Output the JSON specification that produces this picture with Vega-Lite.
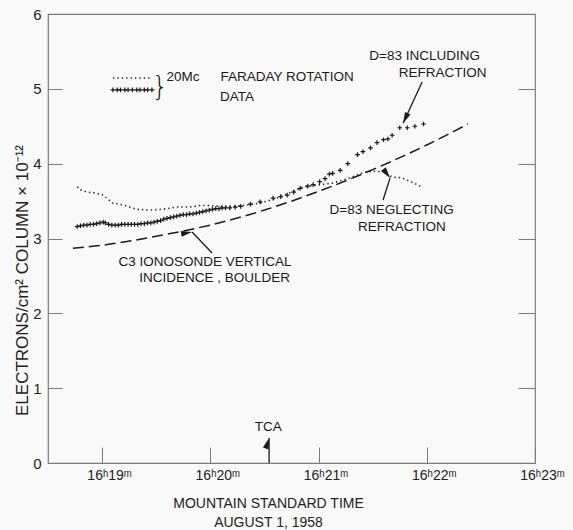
{
  "$schema": "https://vega.github.io/schema/vega-lite/v6.json",
  "width": 487,
  "height": 449,
  "autosize": {"type": "none"},
  "padding": {"left": 48, "top": 14, "right": 38, "bottom": 67},
  "background": "#f9f9f9",
  "config": {
    "view": {"stroke": "#7a7a7a", "strokeWidth": 1.2},
    "font": "Liberation Sans",
    "axis": {"labelFont": "Liberation Sans", "titleFont": "Liberation Sans", "labelColor": "#222", "titleColor": "#222", "tickColor": "#7a7a7a", "titleFontWeight": "normal", "grid": false, "domain": false}
  },
  "datasets": {
    "iono": [
      {"t": 18.73, "v": 2.87}, {"t": 19.0, "v": 2.91}, {"t": 19.5, "v": 3.03}, {"t": 20.0, "v": 3.18},
      {"t": 20.5, "v": 3.38}, {"t": 21.0, "v": 3.63}, {"t": 21.5, "v": 3.92}, {"t": 22.0, "v": 4.25}, {"t": 22.38, "v": 4.53}
    ],
    "neglect": [
      {"g": "a", "t": 18.77, "v": 3.69}, {"g": "a", "t": 18.8, "v": 3.65}, {"g": "a", "t": 18.86, "v": 3.62}, {"g": "a", "t": 18.93, "v": 3.61},
      {"g": "a", "t": 19.01, "v": 3.58}, {"g": "a", "t": 19.05, "v": 3.53}, {"g": "a", "t": 19.1, "v": 3.47}, {"g": "a", "t": 19.19, "v": 3.45},
      {"g": "a", "t": 19.32, "v": 3.39}, {"g": "a", "t": 19.44, "v": 3.38}, {"g": "a", "t": 19.56, "v": 3.39}, {"g": "a", "t": 19.69, "v": 3.42},
      {"g": "a", "t": 19.81, "v": 3.42}, {"g": "a", "t": 19.9, "v": 3.44}, {"g": "a", "t": 20.0, "v": 3.44}, {"g": "a", "t": 20.1, "v": 3.43},
      {"g": "a", "t": 20.2, "v": 3.43}, {"g": "a", "t": 20.3, "v": 3.44}, {"g": "a", "t": 20.45, "v": 3.47}, {"g": "a", "t": 20.6, "v": 3.53},
      {"g": "a", "t": 20.75, "v": 3.62}, {"g": "a", "t": 20.86, "v": 3.69}, {"g": "a", "t": 21.13, "v": 3.74}, {"g": "a", "t": 21.29, "v": 3.81},
      {"g": "a", "t": 21.41, "v": 3.88}, {"g": "a", "t": 21.5, "v": 3.9}, {"g": "a", "t": 21.6, "v": 3.89}, {"g": "a", "t": 21.64, "v": 3.85},
      {"g": "a", "t": 21.69, "v": 3.82}, {"g": "a", "t": 21.77, "v": 3.81}, {"g": "a", "t": 21.85, "v": 3.76}, {"g": "a", "t": 21.91, "v": 3.72},
      {"g": "a", "t": 21.96, "v": 3.68},
      {"g": "legend", "t": 19.1, "v": 5.145}, {"g": "legend", "t": 19.46, "v": 5.145}
    ],
    "incl": [
      {"t": 18.77, "v": 3.16}, {"t": 18.8, "v": 3.17}, {"t": 18.83, "v": 3.18}, {"t": 18.86, "v": 3.18}, {"t": 18.89, "v": 3.19},
      {"t": 18.92, "v": 3.19}, {"t": 18.95, "v": 3.2}, {"t": 18.98, "v": 3.21}, {"t": 19.01, "v": 3.22}, {"t": 19.03, "v": 3.21},
      {"t": 19.06, "v": 3.19}, {"t": 19.09, "v": 3.18}, {"t": 19.12, "v": 3.18}, {"t": 19.15, "v": 3.18}, {"t": 19.18, "v": 3.19},
      {"t": 19.21, "v": 3.19}, {"t": 19.24, "v": 3.19}, {"t": 19.27, "v": 3.19}, {"t": 19.3, "v": 3.19}, {"t": 19.33, "v": 3.19},
      {"t": 19.36, "v": 3.2}, {"t": 19.39, "v": 3.2}, {"t": 19.42, "v": 3.21}, {"t": 19.45, "v": 3.21}, {"t": 19.48, "v": 3.22},
      {"t": 19.51, "v": 3.23}, {"t": 19.54, "v": 3.24}, {"t": 19.57, "v": 3.26}, {"t": 19.6, "v": 3.27}, {"t": 19.63, "v": 3.28},
      {"t": 19.66, "v": 3.29}, {"t": 19.69, "v": 3.3}, {"t": 19.72, "v": 3.31}, {"t": 19.75, "v": 3.32}, {"t": 19.78, "v": 3.32},
      {"t": 19.81, "v": 3.33}, {"t": 19.84, "v": 3.33}, {"t": 19.87, "v": 3.34}, {"t": 19.9, "v": 3.35}, {"t": 19.93, "v": 3.36},
      {"t": 19.96, "v": 3.37}, {"t": 19.99, "v": 3.38}, {"t": 20.02, "v": 3.39}, {"t": 20.05, "v": 3.4}, {"t": 20.08, "v": 3.4},
      {"t": 20.11, "v": 3.41}, {"t": 20.14, "v": 3.41}, {"t": 20.18, "v": 3.41}, {"t": 20.23, "v": 3.42}, {"t": 20.28, "v": 3.43},
      {"t": 20.37, "v": 3.46}, {"t": 20.46, "v": 3.49}, {"t": 20.58, "v": 3.54}, {"t": 20.65, "v": 3.56}, {"t": 20.71, "v": 3.58},
      {"t": 20.77, "v": 3.62}, {"t": 20.83, "v": 3.67}, {"t": 20.9, "v": 3.7}, {"t": 20.95, "v": 3.72}, {"t": 21.01, "v": 3.76},
      {"t": 21.06, "v": 3.8}, {"t": 21.1, "v": 3.86}, {"t": 21.13, "v": 3.87}, {"t": 21.2, "v": 3.91}, {"t": 21.27, "v": 4.0},
      {"t": 21.36, "v": 4.12}, {"t": 21.41, "v": 4.16}, {"t": 21.48, "v": 4.21}, {"t": 21.54, "v": 4.28}, {"t": 21.6, "v": 4.32},
      {"t": 21.64, "v": 4.33}, {"t": 21.68, "v": 4.38}, {"t": 21.75, "v": 4.48}, {"t": 21.82, "v": 4.48}, {"t": 21.89, "v": 4.5},
      {"t": 21.97, "v": 4.53},
      {"t": 19.1, "v": 4.985}, {"t": 19.14, "v": 4.985}, {"t": 19.17, "v": 4.985}, {"t": 19.21, "v": 4.985}, {"t": 19.24, "v": 4.985},
      {"t": 19.28, "v": 4.985}, {"t": 19.32, "v": 4.985}, {"t": 19.35, "v": 4.985}, {"t": 19.39, "v": 4.985}, {"t": 19.42, "v": 4.985},
      {"t": 19.46, "v": 4.985}
    ],
    "arrows": [
      {"name": "incl", "t": 21.957, "v": 5.09, "t2": 21.781, "v2": 4.54},
      {"name": "negl", "t": 21.596, "v": 3.515, "t2": 21.661, "v2": 3.81},
      {"name": "iono", "t": 20.016, "v": 2.806, "t2": 19.831, "v2": 3.087},
      {"name": "tca", "t": 20.543, "v": 0.0, "t2": 20.543, "v2": 0.334}
    ],
    "notes": [
      {"label": "D=83 INCLUDING", "t": 21.98, "v": 5.44},
      {"label": "REFRACTION", "t": 22.146, "v": 5.21},
      {"label": "D=83 NEGLECTING", "t": 21.675, "v": 3.38},
      {"label": "REFRACTION", "t": 21.77, "v": 3.154},
      {"label": "C3 IONOSONDE VERTICAL", "t": 19.951, "v": 2.686},
      {"label": "INCIDENCE , BOULDER", "t": 20.039, "v": 2.472},
      {"label": "20Mc", "t": 19.748, "v": 5.158},
      {"label": "FARADAY ROTATION", "t": 20.709, "v": 5.158},
      {"label": "DATA", "t": 20.247, "v": 4.891},
      {"label": "TCA", "t": 20.535, "v": 0.481}
    ],
    "brace": [{"label": "}", "t": 19.535, "v": 5.03}]
  },
  "resolve": {"axis": {"y": "independent"}},
  "layer": [
    {
      "layer": [
        {
          "data": {"name": "neglect"},
          "mark": {"type": "line", "color": "#2a2a2a", "strokeWidth": 1.6, "strokeDash": [1.4, 3], "interpolate": "linear"},
          "encoding": {
            "x": {"field": "t", "type": "quantitative", "scale": {"domain": [18.5, 23], "nice": false, "zero": false},
              "axis": {"values": [19, 20, 21, 22, 23], "labelExpr": "'16ʰ' + datum.value + 'ᵐ'", "tickSize": -16, "labelPadding": 21, "labelOffset": 7, "labelFontSize": 14, "labelFlush": false,
                "title": ["MOUNTAIN STANDARD TIME", "AUGUST 1, 1958"], "titleFontSize": 14, "titleX": 220, "titleY": 40, "titleAlign": "center", "titleBaseline": "middle", "titleLineHeight": 19}},
            "y": {"field": "v", "type": "quantitative", "scale": {"domain": [0, 6], "nice": false},
              "axis": {"values": [0, 1, 2, 3, 4, 5, 6], "format": "d", "tickSize": -14, "labelPadding": 21, "labelFontSize": 15, "labelFlush": false,
                "title": "ELECTRONS/cm² COLUMN × 10⁻¹²", "titleFontSize": 17, "titleX": -26, "titleY": 266, "titleAlign": "center", "titleBaseline": "middle", "titleAngle": -90}},
            "detail": {"field": "g"}
          }
        },
        {
          "data": {"name": "incl"},
          "mark": {"type": "point", "shape": "M-1,0L1,0M0,-1L0,1", "filled": false, "color": "#1a1a1a", "strokeWidth": 1.2, "size": 22, "opacity": 1},
          "encoding": {
            "x": {"field": "t", "type": "quantitative"},
            "y": {"field": "v", "type": "quantitative"}
          }
        },
        {
          "data": {"name": "arrows"},
          "mark": {"type": "rule", "color": "#1a1a1a", "strokeWidth": 1.3},
          "encoding": {
            "x": {"field": "t", "type": "quantitative"},
            "y": {"field": "v", "type": "quantitative"},
            "x2": {"field": "t2"},
            "y2": {"field": "v2"}
          }
        },
        {
          "data": {"name": "arrows"},
          "mark": {"type": "point", "shape": "M0,0L0.6,2.2L-0.6,2.2Z", "filled": true, "color": "#1a1a1a", "size": 100, "opacity": 1},
          "encoding": {
            "x": {"field": "t2", "type": "quantitative"},
            "y": {"field": "v2", "type": "quantitative"},
            "angle": {"field": "name", "type": "nominal", "scale": {"domain": ["incl", "negl", "iono", "tca"], "range": [205, 17.6, 316.4, 0]}, "legend": null}
          }
        },
        {
          "data": {"name": "notes"},
          "mark": {"type": "text", "font": "Liberation Sans", "fontSize": 13.5, "color": "#1a1a1a", "align": "center", "baseline": "middle"},
          "encoding": {
            "x": {"field": "t", "type": "quantitative"},
            "y": {"field": "v", "type": "quantitative"},
            "text": {"field": "label"}
          }
        },
        {
          "data": {"name": "brace"},
          "mark": {"type": "text", "font": "DejaVu Sans", "fontSize": 26, "fontWeight": 300, "color": "#1a1a1a", "align": "center", "baseline": "middle"},
          "encoding": {
            "x": {"field": "t", "type": "quantitative"},
            "y": {"field": "v", "type": "quantitative"},
            "text": {"field": "label"}
          }
        }
      ]
    },
    {
      "data": {"name": "iono"},
      "mark": {"type": "line", "color": "#1a1a1a", "strokeWidth": 1.5, "strokeDash": [11, 5], "interpolate": "monotone"},
      "encoding": {
        "x": {"field": "t", "type": "quantitative"},
        "y": {"field": "v", "type": "quantitative",
          "axis": {"orient": "right", "values": [1, 2, 3, 4, 5], "labels": false, "tickSize": -17, "title": null}}
      }
    }
  ]
}
